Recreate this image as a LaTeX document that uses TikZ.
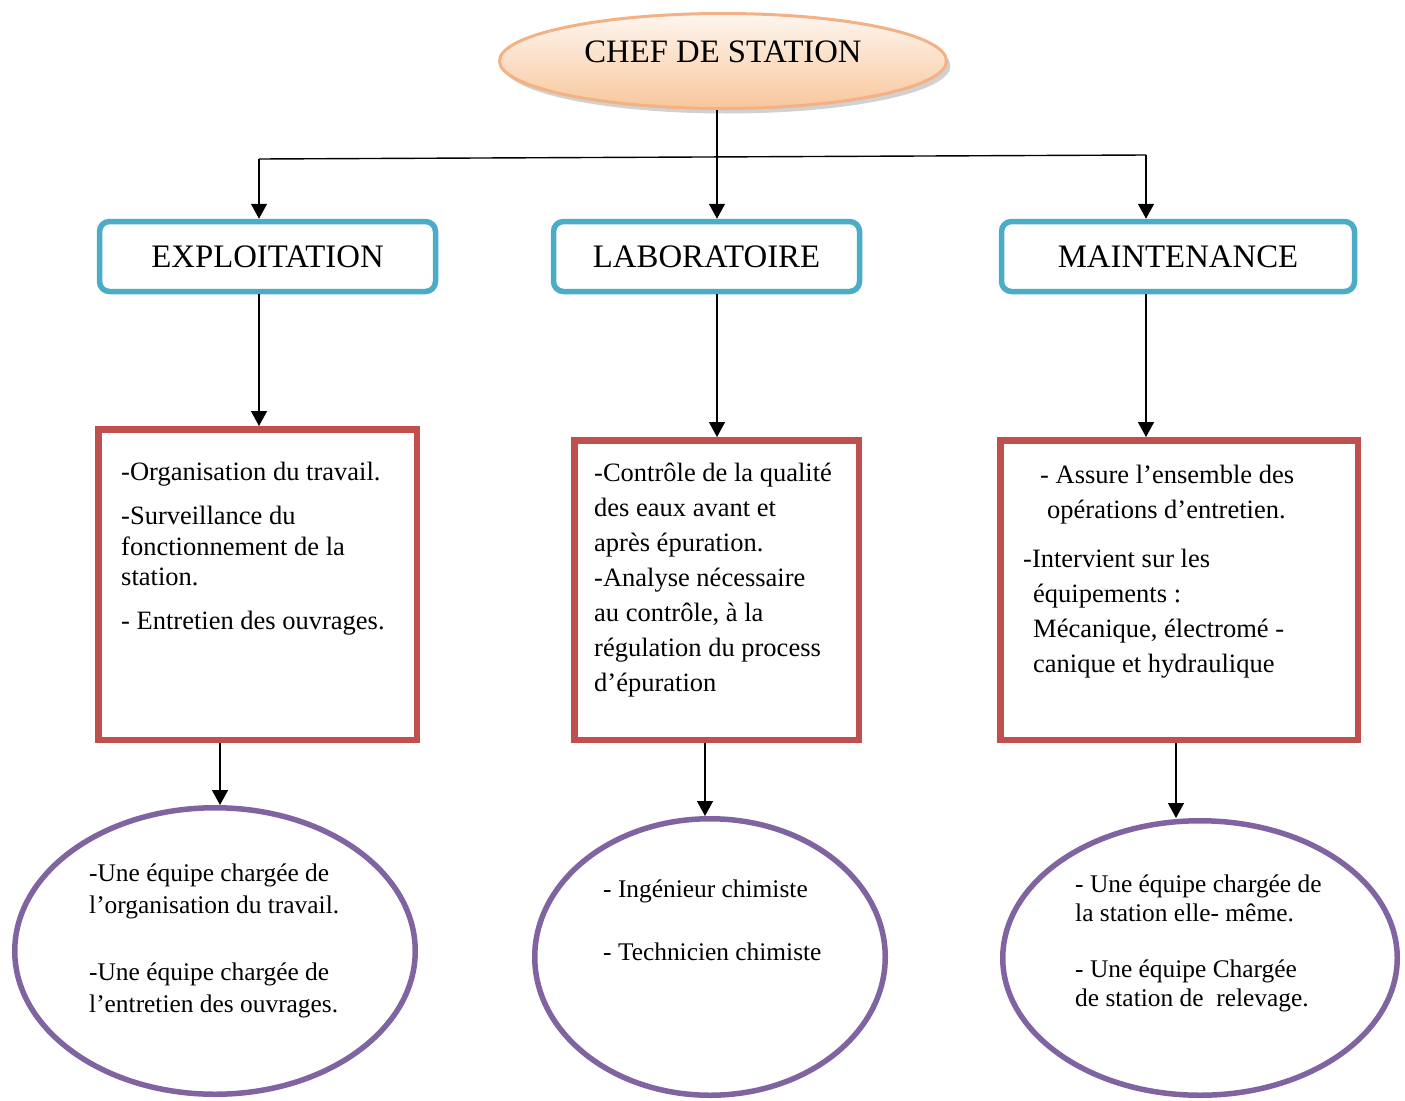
\documentclass[tikz,border=0pt]{standalone}
\usepackage{fontspec}
\setmainfont{Liberation Serif}
\usepackage{tikz}
\usetikzlibrary{arrows.meta,positioning,shapes.geometric,shadows}
\definecolor{headblue}{HTML}{4BACC6}
\definecolor{taskred}{HTML}{C0504D}
\definecolor{teampurple}{HTML}{8064A2}
\definecolor{peachline}{HTML}{F4B183}
\definecolor{peachtop}{HTML}{FEF6F0}
\definecolor{peachbot}{HTML}{F8C79C}

\begin{document}
\begin{tikzpicture}[x=1pt, y=-1pt,
  chef/.style={ellipse, draw=peachline, line width=3pt, top color=peachtop, bottom color=peachbot,
    drop shadow={shadow xshift=4pt, shadow yshift=-5pt, fill=black!45, opacity=.4},
    minimum width=447pt, minimum height=95pt, inner sep=0pt, text depth=18pt,
    font=\fontsize{32.7}{38}\selectfont},
  head/.style={rectangle, rounded corners=10pt, draw=headblue, line width=5.5pt,
    minimum height=70pt, inner sep=0pt, font=\fontsize{32.8}{38}\selectfont},
  task/.style={rectangle, draw=taskred, line width=6.5pt, inner sep=0pt},
  team/.style={ellipse, draw=teampurple, line width=5.5pt, inner sep=0pt},
  txt/.style={anchor=north west, align=left, inner sep=0pt},
  line/.style={line width=1.4pt},
  arr/.style={line, -{Triangle[length=15pt,width=16pt]}}]
  \useasboundingbox (0,0) rectangle (1405,1100);

  % top
  \node[chef] (chef) at (723,61) {CHEF DE STATION};

  % services
  \node[head, minimum width=336pt] (exHead) at (267.5,256.5) {EXPLOITATION};
  \node[head, minimum width=306pt] (laHead) at (706.5,256.5) {LABORATOIRE};
  \node[head, minimum width=353pt] (maHead) at (1178,256.5) {MAINTENANCE};

  % tasks
  \node[task, minimum width=318.5pt, minimum height=310.5pt] (exBox) at (257.5,584.5) {};
  \node[task, minimum width=284.5pt, minimum height=299.5pt] (laBox) at (716.5,590) {};
  \node[task, minimum width=357.5pt, minimum height=299.5pt] (maBox) at (1179,590) {};

  \node[txt, font=\fontsize{26.5}{30.5}\selectfont] (exTxt) at (121,462)
    {-Organisation du travail.\\[13.5pt]
     -Surveillance du\\ fonctionnement de la\\ station.\\[13.5pt]
     - Entretien des ouvrages.};
  \node[txt, font=\fontsize{26.5}{35}\selectfont] (laTxt) at (594,463)
    {-Contrôle de la qualité\\ des eaux avant et\\ après épuration.\\
     -Analyse nécessaire\\ au contrôle, à la\\ régulation du process\\ d’épuration};
  \node[txt, font=\fontsize{26.5}{35}\selectfont] (maTxt) at (1023,465)
    {\hspace*{17pt}- Assure l’ensemble des\\ \hspace*{24pt}opérations d’entretien.\\[14pt]
     -Intervient sur les\\ \hspace*{10pt}équipements :\\
     \hspace*{10pt}Mécanique, électromé -\\ \hspace*{10pt}canique et hydraulique};

  % teams
  \node[team, minimum width=400.5pt, minimum height=286.5pt] (exTeam) at (215,951) {};
  \node[team, minimum width=350.5pt, minimum height=276.5pt] (laTeam) at (710,957) {};
  \node[team, minimum width=394.5pt, minimum height=274.5pt] (maTeam) at (1200,958) {};

  \node[txt, font=\fontsize{25.4}{31.5}\selectfont] (exTeamTxt) at (89,864)
    {-Une équipe chargée de\\ l’organisation du travail.\\[36pt]
     -Une équipe chargée de\\ l’entretien des ouvrages.};
  \node[txt, font=\fontsize{25.4}{29}\selectfont] (laTeamTxt) at (603,880)
    {- Ingénieur chimiste\\[34pt] - Technicien chimiste};
  \node[txt, font=\fontsize{25.4}{29}\selectfont] (maTeamTxt) at (1075,875)
    {- Une équipe chargée de\\ la station elle- même.\\[27pt]
     - Une équipe Chargée\\ de station de\ \ relevage.};

  % connectors
  \coordinate (jE) at (259,159);
  \coordinate (jL) at (717,157);
  \coordinate (jM) at (1146,155);
  \draw[line] (jE) -- (jM);
  \draw[arr] (jL |- chef.south) -- (jL |- laHead.north);
  \draw[arr] (jE) -- (jE |- exHead.north);
  \draw[arr] (jM) -- (jM |- maHead.north);

  \draw[arr] (jE |- exHead.south) -- (jE |- exBox.north);
  \draw[arr] (jL |- laHead.south) -- (jL |- laBox.north);
  \draw[arr] (jM |- maHead.south) -- (jM |- maBox.north);

  \draw[arr] ([xshift=5pt]exTeam.north |- exBox.south) -- ([xshift=5pt]exTeam.north);
  \draw[arr] ([xshift=-5pt]laTeam.north |- laBox.south) -- ([xshift=-5pt]laTeam.north);
  \draw[arr] ([xshift=-3pt]maBox.south) -- ([xshift=-3pt]maBox.south |- maTeam.north);
\end{tikzpicture}
\end{document}
